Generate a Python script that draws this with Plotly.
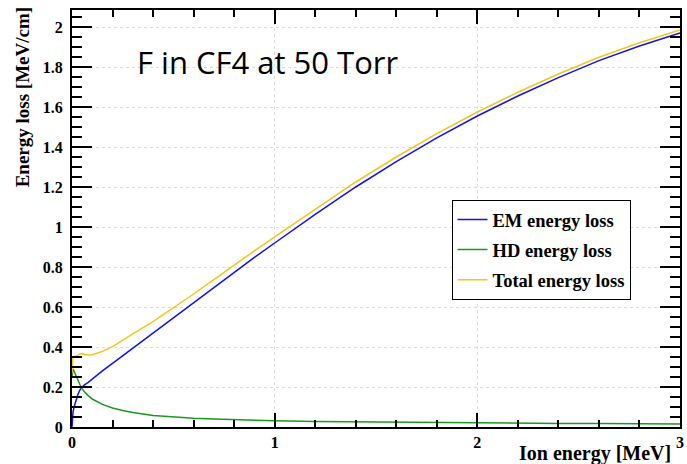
import plotly.graph_objects as go

energy = [0, 0.002, 0.005, 0.01, 0.02, 0.03, 0.04, 0.05, 0.06, 0.08, 0.1, 0.15, 0.2, 0.25, 0.3,
          0.4, 0.5, 0.6, 0.7, 0.8, 0.9, 1.0, 1.2, 1.4, 1.6, 1.8, 2.0, 2.2, 2.4, 2.6, 2.8, 3.0]
em_loss = [0.0, 0.05, 0.075, 0.1, 0.14, 0.165, 0.187, 0.2, 0.21, 0.223, 0.24, 0.281, 0.318, 0.356, 0.395,
           0.47, 0.546, 0.622, 0.697, 0.773, 0.848, 0.92, 1.063, 1.2, 1.327, 1.446, 1.555, 1.655, 1.747,
           1.832, 1.905, 1.97]
hd_loss = [0.25, 0.285, 0.29, 0.28, 0.255, 0.23, 0.21, 0.192, 0.178, 0.157, 0.14, 0.113, 0.095, 0.082, 0.072,
           0.058, 0.05, 0.044, 0.04, 0.036, 0.033, 0.031, 0.027, 0.025, 0.023, 0.021, 0.02, 0.019, 0.018,
           0.017, 0.016, 0.015]
total_loss = [0.27, 0.33, 0.35, 0.351, 0.353, 0.358, 0.366, 0.367, 0.364, 0.36, 0.361, 0.378, 0.402, 0.435,
              0.466, 0.527, 0.594, 0.665, 0.737, 0.81, 0.881, 0.951, 1.09, 1.225, 1.35, 1.467, 1.575, 1.674,
              1.765, 1.849, 1.921, 1.985]

series_names = ["EM energy loss", "HD energy loss", "Total energy loss"]
series_colors = ["#1010f0", "#1a9a1a", "#f5c518"]

fig = go.Figure()
for i, (name, vals, col) in enumerate(zip(series_names, [em_loss, hd_loss, total_loss], series_colors)):
    fig.add_trace(go.Scatter(x=energy, y=vals, mode="lines", name=name,
                             line=dict(color=col, width=1.5), legendgroup=f"g{i}"))

serif_bold = dict(family="Liberation Serif", size=16, color="black", weight="bold")

fig.update_layout(
    width=687, height=464,
    margin=dict(l=72, r=3, t=10, b=37),
    plot_bgcolor="white", paper_bgcolor="white",
    showlegend=True,
    legend=dict(x=(454 - 72) / 612, y=(427 - 200) / 417, xanchor="left", yanchor="top",
                bgcolor="white", bordercolor="black", borderwidth=1,
                font=dict(family="Liberation Serif", size=18.5, color="black", weight="bold"),
                tracegroupgap=3, itemwidth=30),
    xaxis=dict(range=[0, 3], tick0=0, dtick=1, ticks="inside", ticklen=14, tickwidth=1.5,
               tickcolor="black", showline=True, linecolor="black", linewidth=2, mirror="allticks",
               showgrid=True, gridcolor="#dcdcdc", griddash="dot", gridwidth=1, zeroline=False,
               tickfont=serif_bold,
               minor=dict(ticks="inside", ticklen=7, tickwidth=1.5, tickcolor="black", dtick=0.2,
                          showgrid=False)),
    yaxis=dict(range=[0, 2.085], tick0=0, dtick=0.2, ticks="inside", ticklen=20, tickwidth=1.5,
               tickcolor="black", showline=True, linecolor="black", linewidth=2, mirror="allticks",
               showgrid=True, gridcolor="#dcdcdc", griddash="dot", gridwidth=1, zeroline=False,
               tickfont=serif_bold, ticklabelstandoff=4,
               minor=dict(ticks="inside", ticklen=10, tickwidth=1.5, tickcolor="black", dtick=0.05,
                          showgrid=False)),
)

fig.add_annotation(text="F in CF4 at 50 Torr", xref="paper", yref="paper",
                   x=(135 - 72) / 612, y=(427 - 62) / 417, xanchor="left", yanchor="middle",
                   showarrow=False, font=dict(family="Open Sans", size=31, color="black"))
fig.add_annotation(text="Energy loss [MeV/cm]", xref="paper", yref="paper",
                   x=(22 - 72) / 612, y=1.0 + 5 / 417, xanchor="center", yanchor="top",
                   textangle=-90, showarrow=False,
                   font=dict(family="Liberation Serif", size=19, color="black", weight="bold"))
fig.add_annotation(text="Ion energy [MeV]", xref="paper", yref="paper",
                   x=(677 - 72) / 612, y=-(453 - 427) / 417, xanchor="right", yanchor="middle",
                   showarrow=False,
                   font=dict(family="Liberation Serif", size=20, color="black", weight="bold"))

fig.write_html("out.html")
